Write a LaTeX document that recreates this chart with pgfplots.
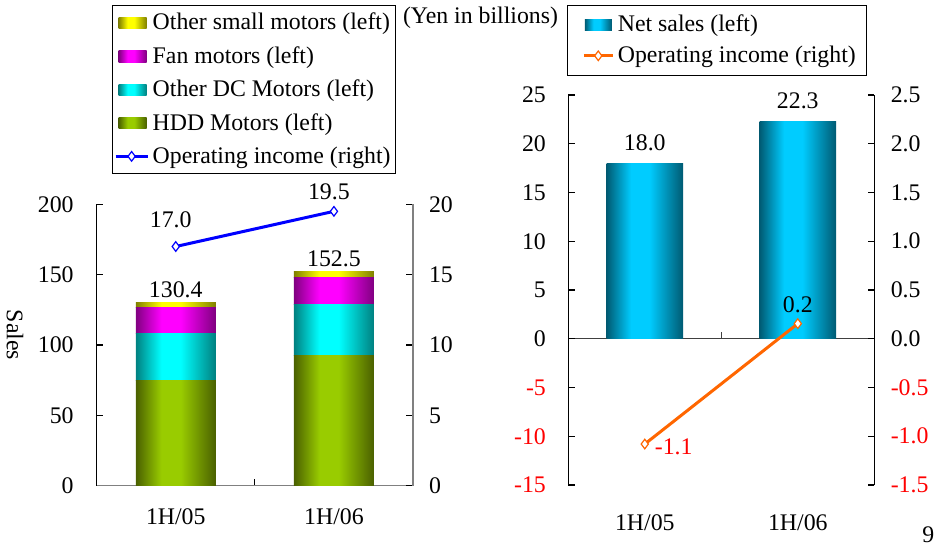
\documentclass[border=0pt]{standalone}
\usepackage{pgfplots}
\pgfplotsset{compat=1.18}
\usepackage{fontspec}
\setmainfont{Liberation Serif}

\definecolor{hddL}{HTML}{99CC00}
\definecolor{hddD}{HTML}{4A6000}
\definecolor{dcL}{HTML}{00FFFF}
\definecolor{dcD}{HTML}{008080}
\definecolor{fanL}{HTML}{FF00FF}
\definecolor{fanD}{HTML}{800080}
\definecolor{smL}{HTML}{FFFF00}
\definecolor{smD}{HTML}{808000}
\definecolor{nsL}{HTML}{00CCFF}
\definecolor{nsD}{HTML}{005A72}
\definecolor{opO}{HTML}{FF6600}

\newcommand\mkshade[3]{\pgfdeclarehorizontalshading{#1}{100bp}{color(0bp)=(#2); color(25bp)=(#2); color(41bp)=(#3); color(53bp)=(#3); color(75bp)=(#2); color(100bp)=(#2)}}
\mkshade{hddS}{hddD}{hddL}
\mkshade{dcS}{dcD}{dcL}
\mkshade{fanS}{fanD}{fanL}
\mkshade{smS}{smD}{smL}
\mkshade{nsS}{nsD}{nsL}

\pgfplotsset{
  base/.style={scale only axis, anchor=south west, xmin=-0.5, xmax=1.5,
    tick align=inside, major tick length=3.3pt,
    axis line style={line width=0.6pt}, every tick/.style={line width=0.6pt, black},
    clip=false},
  leftgeom/.style={base, at={(48.35pt,35.65pt)}, width=158.15pt, height=140.7pt},
  rightgeom/.style={base, at={(284.15pt,36pt)}, width=153pt, height=195pt},
  lgd/.style={legend cell align=left,
    legend style={draw=black, line width=0.5pt, row sep=3.2pt, inner xsep=0.8pt,
      nodes={inner sep=1.8pt}, font=\fontsize{11.9}{14.3}\selectfont}},
  barlegend/.style={legend image code/.code={\path (0pt,0pt); \path[##1] (1.5pt,-2.8pt) rectangle (15.5pt,2.8pt);}},
  linelegend/.style={legend image code/.code={\draw[mark repeat=2, mark phase=2, ##1] plot coordinates {(0pt,0pt) (8pt,0pt) (16pt,0pt)};}},
  barlegendR/.style={legend image code/.code={\path (0pt,0pt); \path[##1] (4.5pt,-2.8pt) rectangle (18pt,2.8pt);}},
  linelegendR/.style={legend image code/.code={\path (0pt,0pt); \draw[mark repeat=2, mark phase=2, ##1] plot coordinates {(4pt,0pt) (11.25pt,0pt) (18.5pt,0pt)};}},
  totlab/.style={nodes near coords, point meta=explicit symbolic,
    every node near coord/.append style={text=black, anchor=south}},
}

\begin{document}
\begin{tikzpicture}[font=\fontsize{11.9}{14.3}\selectfont]
\useasboundingbox (0pt,0pt) rectangle (467pt,278.5pt);

% ---------------- left panel: stacked sales, 1H/05 ----------------
\begin{axis}[leftgeom,
  ybar stacked, bar width=40pt, ymin=0, ymax=200,
  ytick={0,50,100,150,200}, yticklabels={0,50,100,150,200},
  yticklabel style={xshift=-8pt},
  axis y line*=left, axis x line*=bottom, x axis line style={gray},
  xtick={0.5}, xticklabels={{}},
  extra x ticks={0,1}, extra x tick labels={1H/05,1H/06},
  extra x tick style={major tick length=0pt, xticklabel style={yshift=-8pt}},
]
\addplot[draw=none, shade, shading=hddS] coordinates {(0,75.1)};
\addplot[draw=none, shade, shading=dcS] coordinates {(0,33.4)};
\addplot[draw=none, shade, shading=fanS] coordinates {(0,18.0)};
\addplot[draw=none, shade, shading=smS, totlab] coordinates {(0,3.9)[130.4]};
\end{axis}

% ---------------- left panel: stacked sales, 1H/06 ----------------
\begin{axis}[leftgeom, hide axis, ybar stacked, bar width=40pt, ymin=0, ymax=200]
\addplot[draw=none, shade, shading=hddS] coordinates {(1,92.4)};
\addplot[draw=none, shade, shading=dcS] coordinates {(1,36.7)};
\addplot[draw=none, shade, shading=fanS] coordinates {(1,19.2)};
\addplot[draw=none, shade, shading=smS, totlab] coordinates {(1,4.2)[152.5]};
\end{axis}

% ---------------- left panel: operating income ----------------
\begin{axis}[leftgeom, lgd,
  ymin=0, ymax=20, ytick={0,5,10,15,20}, yticklabels={0,5,10,15,20},
  yticklabel style={xshift=4.5pt},
  axis y line*=right, y axis line style={gray}, hide x axis,
  legend style={at={(0.0484,1.708)}, anchor=north west},
]
\addlegendimage{barlegend, draw=none, shade, shading=smS}
\addlegendentry{Other small motors (left)}
\addlegendimage{barlegend, draw=none, shade, shading=fanS}
\addlegendentry{Fan motors (left)}
\addlegendimage{barlegend, draw=none, shade, shading=dcS}
\addlegendentry{Other DC Motors (left)}
\addlegendimage{barlegend, draw=none, shade, shading=hddS}
\addlegendentry{HDD Motors (left)}
\addplot[linelegend, blue, line width=1.5pt, mark=diamond*, mark size=2.4pt,
  mark options={fill=white, draw=blue, line width=0.6pt},
  nodes near coords, point meta=explicit symbolic,
  every node near coord/.append style={text=black, anchor=south, xshift=-2.5pt, yshift=2.2pt}]
  coordinates {(0,17.0)[\raisebox{3.8pt}{17.0}] (1,19.5)[19.5]};
\addlegendentry{Operating income (right)}
\end{axis}

% ---------------- right panel: net sales ----------------
\begin{axis}[rightgeom,
  ybar, bar width=38.3pt, ymin=-15, ymax=25,
  ytick={-15,-10,-5,0,5,10,15,20,25},
  yticklabels={{\color{red}-15},{\color{red}-10},{\color{red}-5},0,5,10,15,20,25},
  yticklabel style={xshift=-7.7pt},
  axis y line*=left, axis x line*=bottom, x axis line style={draw=none},
  xtick={0,1}, xticklabels={1H/05,1H/06}, xtick style={draw=none},
  xticklabel style={yshift=-8pt},
  extra y ticks={0}, extra y tick labels={},
  extra y tick style={grid=major, major grid style={black!75, line width=0.6pt}},
  nodes near coords, point meta=explicit symbolic,
  every node near coord/.append style={text=black, anchor=south, yshift=2.5pt},
]
\addplot[bar shift=0pt, draw=none, shade, shading=nsS] coordinates {(0,18.0)[18.0]};
\addplot[bar shift=0pt, draw=none, shade, shading=nsS] coordinates {(1,22.3)[22.3]};
\draw[black!75, line width=0.6pt] (axis cs:0.5,0) -- ++(0pt,3.3pt);
\end{axis}

% ---------------- right panel: operating income ----------------
\begin{axis}[rightgeom, lgd,
  ymin=-1.5, ymax=2.5, ytick={-1.5,-1,-0.5,0,0.5,1,1.5,2,2.5},
  yticklabels={{\color{red}-1.5},{\color{red}-1.0},{\color{red}-0.5},0.0,0.5,1.0,1.5,2.0,2.5},
  yticklabel style={xshift=4.7pt},
  axis y line*=right, hide x axis,
  legend style={at={(-0.005,1.2308)}, anchor=north west, row sep=2pt, inner ysep=3pt, inner xsep=3.5pt},
]
\addlegendimage{barlegendR, draw=none, shade, shading=nsS}
\addlegendentry{Net sales (left)}
\addplot[linelegendR, opO, line width=1.5pt, mark=diamond*, mark size=2.4pt,
  mark options={fill=white, draw=opO, line width=0.6pt}]
  coordinates {(0,-1.08) (1,0.155)};
\addlegendentry{Operating income (right)}
\addplot[draw=none, mark=none, forget plot, nodes near coords, point meta=explicit symbolic,
  every node near coord/.append style={text=red, anchor=west, xshift=1.5pt, yshift=-1.3pt}]
  coordinates {(0,-1.08)[-1.1]};
\addplot[draw=none, mark=none, forget plot, nodes near coords, point meta=explicit symbolic,
  every node near coord/.append style={text=black, anchor=south, yshift=2pt}]
  coordinates {(1,0.155)[0.2]};
\end{axis}

\node[anchor=west, inner sep=0pt] at (461pt,11pt) {9};
\node[anchor=west] at (198pt,269.5pt) {(Yen in billions)};
\node[rotate=-90] at (7.5pt,111pt) {Sales};
\end{tikzpicture}
\end{document}
